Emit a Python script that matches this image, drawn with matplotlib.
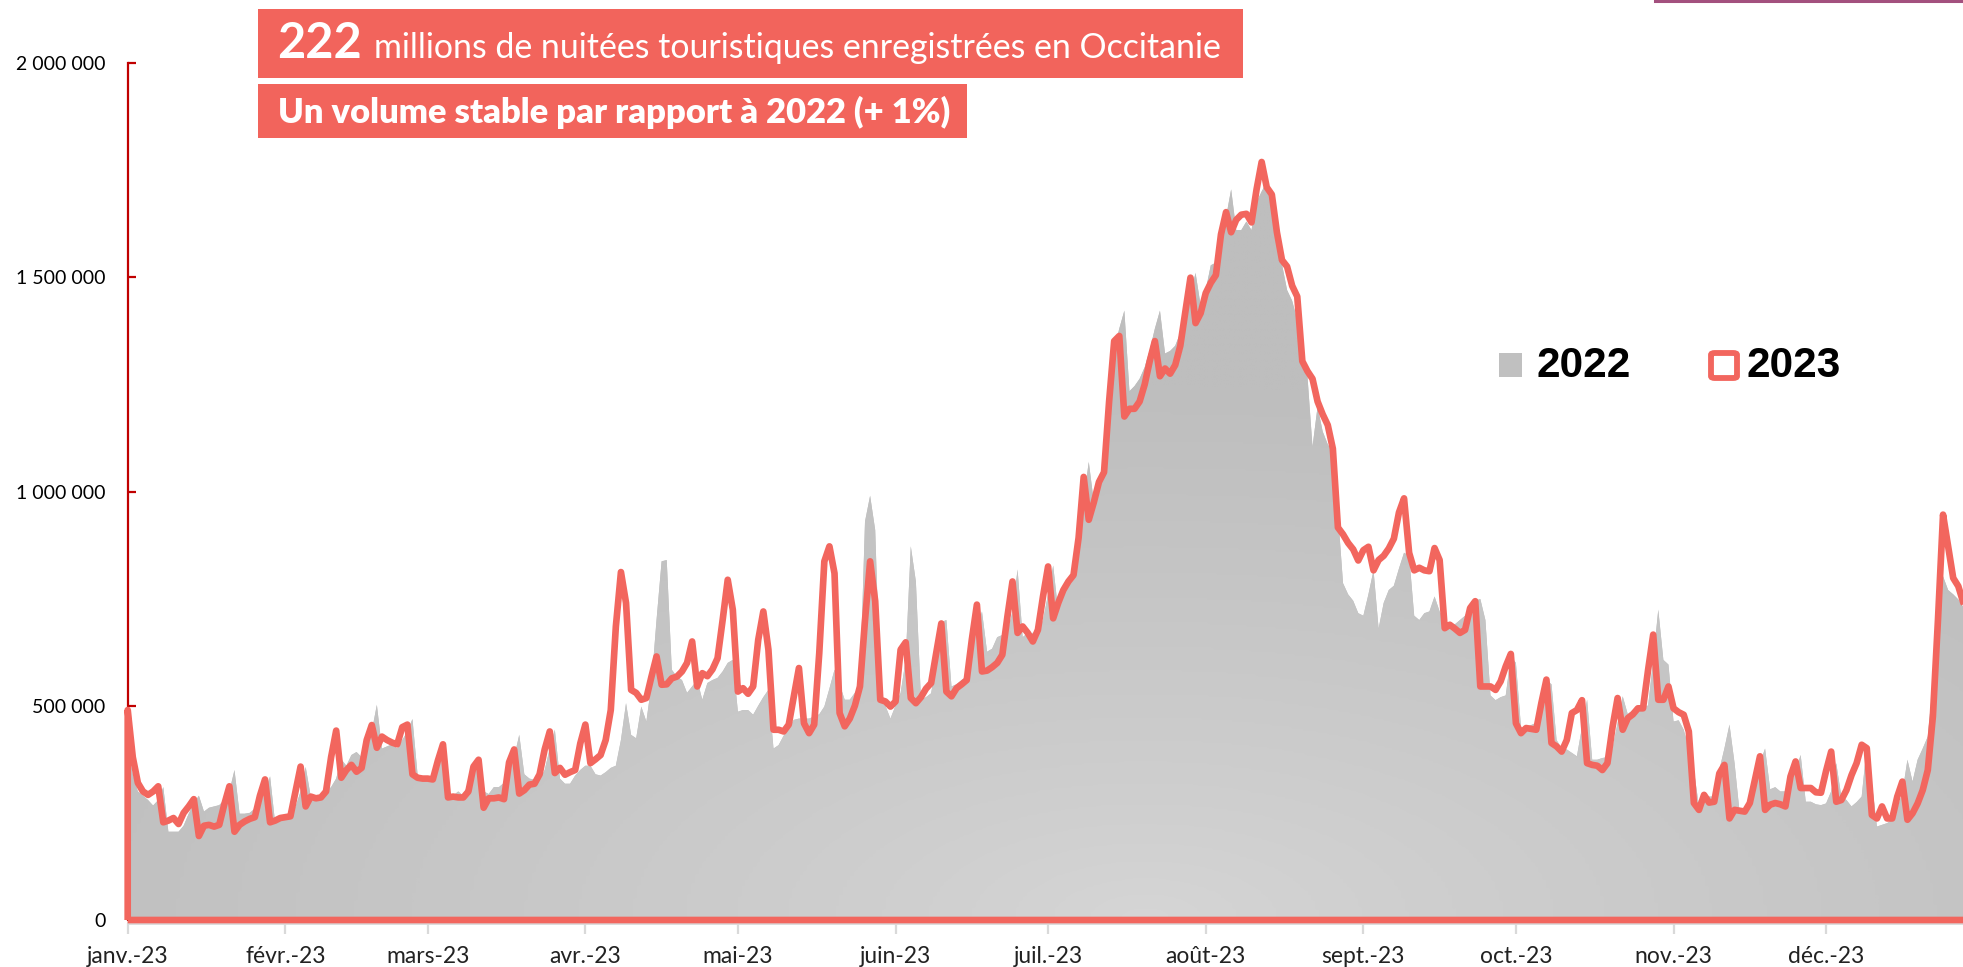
import numpy as np
import matplotlib
matplotlib.use("Agg")
import matplotlib.pyplot as plt
from matplotlib.patches import Rectangle, FancyBboxPatch
from matplotlib.lines import Line2D
from matplotlib.colors import LinearSegmentedColormap

plt.rcParams['font.family'] = ['Lato', 'DejaVu Sans']

# ---------------- labels ----------------
month_labels = ["janv.-23", "févr.-23", "mars-23", "avr.-23", "mai-23", "juin-23",
                "juil.-23", "août-23", "sept.-23", "oct.-23", "nov.-23", "déc.-23"]
month_lengths = [31, 28, 31, 30, 31, 30, 31, 31, 30, 31, 30, 31]
ytick_values = [0, 500000, 1000000, 1500000, 2000000]
ytick_labels = ["0", "500 000", "1 000 000", "1 500 000", "2 000 000"]
legend_labels = ["2022", "2023"]
title_number = "222"
title_rest = "millions de nuitées touristiques enregistrées en Occitanie"
subtitle = "Un volume stable par rapport à 2022 (+ 1%)"

# ---------------- daily nights, thousands : 2023 ----------------
n23_jan = [490, 380, 320, 300, 292, 300, 312, 228, 232, 238, 224, 250, 265, 282,
           196, 220, 222, 218, 222, 270, 312, 206, 222, 230, 236, 240, 290, 328,
           228, 232, 238]
n23_feb = [240, 242, 300, 358, 265, 288, 284, 286, 300, 380, 442, 332, 350, 362,
           346, 355, 420, 455, 402, 428, 420, 414, 410, 450, 456, 340, 332, 330]
n23_mar = [330, 328, 372, 410, 286, 288, 286, 286, 300, 358, 374, 262, 284, 284,
           286, 282, 368, 398, 295, 303, 316, 318, 340, 398, 440, 343, 355, 339,
           345, 350, 412]
n23_apr = [456, 366, 375, 385, 420, 490, 685, 812, 740, 537, 530, 514, 518, 568,
           615, 549, 550, 564, 568, 580, 600, 650, 545, 576, 569, 585, 611, 700,
           794, 724]
n23_may = [533, 541, 528, 545, 654, 720, 631, 444, 444, 440, 456, 522, 588, 459,
           436, 456, 623, 837, 872, 809, 483, 452, 470, 500, 545, 700, 837, 744,
           514, 510, 498]
n23_jun = [510, 631, 648, 518, 506, 520, 540, 553, 623, 692, 533, 522, 541, 550,
           560, 654, 736, 580, 582, 590, 600, 619, 708, 790, 670, 685, 670, 650,
           677, 755]
n23_jul = [825, 704, 740, 770, 790, 805, 892, 1034, 934, 975, 1022, 1045, 1210, 1351,
           1363, 1175, 1193, 1193, 1210, 1250, 1305, 1351, 1269, 1287, 1275, 1295,
           1340, 1420, 1499, 1393, 1416]
n23_aug = [1463, 1487, 1505, 1600, 1652, 1605, 1634, 1646, 1648, 1628, 1705, 1769,
           1710, 1693, 1605, 1540, 1525, 1480, 1455, 1304, 1281, 1263, 1210, 1180,
           1155, 1100, 916, 900, 880, 865, 839]
n23_sep = [863, 871, 816, 840, 850, 867, 890, 951, 984, 857, 816, 822, 816, 814,
           868, 840, 681, 689, 680, 670, 677, 728, 744, 545, 545, 545, 537, 557,
           592, 621]
n23_oct = [459, 436, 448, 446, 444, 506, 561, 413, 405, 393, 420, 483, 490, 513,
           366, 362, 360, 350, 366, 450, 518, 444, 471, 480, 494, 494, 584, 666,
           514, 514, 545]
n23_nov = [494, 485, 479, 440, 273, 257, 292, 274, 276, 342, 362, 237, 257, 255,
           253, 273, 327, 382, 257, 269, 273, 270, 265, 335, 370, 308, 308, 308,
           298, 297]
n23_dec = [348, 393, 276, 280, 303, 338, 366, 409, 401, 245, 237, 265, 237, 237,
           288, 323, 234, 249, 272, 303, 350, 475, 700, 946, 872, 798, 779, 740,
           720, 700, 690]

# ---------------- daily nights, thousands : 2022 ----------------
n22_jan = [400, 340, 300, 290, 280, 267, 280, 310, 206, 206, 206, 220, 248, 272,
           290, 253, 262, 265, 268, 280, 300, 350, 248, 248, 250, 260, 270, 300,
           335, 226, 235]
n22_feb = [240, 255, 264, 300, 357, 288, 280, 285, 300, 310, 330, 375, 360, 385,
           392, 380, 420, 440, 502, 400, 405, 410, 400, 420, 440, 469, 340, 330]
n22_mar = [330, 330, 360, 400, 290, 290, 300, 290, 320, 350, 370, 300, 294, 310,
           310, 320, 350, 380, 432, 340, 330, 327, 327, 350, 400, 444, 330, 318,
           318, 337, 350]
n22_apr = [360, 360, 340, 337, 345, 355, 360, 420, 506, 432, 424, 498, 463, 550,
           700, 837, 840, 584, 568, 560, 530, 545, 560, 514, 553, 560, 565, 580,
           600, 607]
n22_may = [486, 490, 490, 479, 500, 520, 537, 400, 408, 430, 450, 467, 470, 470,
           470, 475, 480, 498, 540, 584, 550, 514, 514, 530, 545, 930, 990, 910,
           545, 500, 470]
n22_jun = [500, 530, 607, 872, 790, 514, 520, 529, 600, 695, 700, 545, 550, 560,
           568, 620, 680, 720, 626, 633, 660, 665, 670, 720, 818, 660, 670, 670,
           670, 700]
n22_jul = [760, 827, 720, 760, 780, 800, 880, 980, 1069, 975, 1000, 1045, 1150, 1330,
           1380, 1422, 1234, 1246, 1263, 1290, 1330, 1380, 1422, 1322, 1328, 1340,
           1370, 1422, 1460, 1510, 1434]
n22_aug = [1470, 1528, 1534, 1580, 1640, 1705, 1610, 1610, 1630, 1610, 1675, 1700,
           1722, 1690, 1600, 1530, 1470, 1445, 1400, 1300, 1270, 1104, 1198, 1140,
           1110, 1090, 950, 786, 760, 745, 716]
n22_sep = [710, 760, 816, 680, 740, 770, 780, 820, 857, 850, 710, 700, 716, 720,
           755, 720, 697, 690, 690, 700, 710, 730, 745, 749, 700, 524, 513, 520,
           524, 615]
n22_oct = [600, 450, 450, 455, 460, 500, 560, 550, 420, 400, 398, 390, 382, 450,
           514, 374, 374, 378, 380, 400, 460, 522, 480, 490, 500, 500, 500, 607,
           724, 607, 596]
n22_nov = [463, 466, 444, 400, 350, 265, 288, 288, 288, 350, 400, 456, 366, 250,
           250, 260, 320, 366, 400, 305, 310, 300, 300, 320, 350, 385, 276, 276,
           270, 268]
n22_dec = [272, 300, 366, 288, 280, 265, 275, 288, 405, 320, 218, 222, 226, 234,
           260, 296, 374, 323, 374, 400, 428, 553, 748, 802, 770, 760, 748, 730,
           710, 700, 690]

v23 = np.array(n23_jan + n23_feb + n23_mar + n23_apr + n23_may + n23_jun +
               n23_jul + n23_aug + n23_sep + n23_oct + n23_nov + n23_dec) * 1000.0
v22 = np.array(n22_jan + n22_feb + n22_mar + n22_apr + n22_may + n22_jun +
               n22_jul + n22_aug + n22_sep + n22_oct + n22_nov + n22_dec) * 1000.0
days = np.arange(len(v23))
month_starts = np.concatenate([[0], np.cumsum(month_lengths)[:-1]])

# ---------------- figure ----------------
W, H = 1963, 967
fig = plt.figure(figsize=(W / 100, H / 100), dpi=100)
fig.patch.set_facecolor("white")


def fx(px):
    return px / W


def fy(py):
    return 1 - py / H


RED = "#F2665E"
BOX = "#F2645C"
px_per_day = 5.085
ax = fig.add_axes([fx(127.7), fy(920), 365 * px_per_day / W, (920 - 63) / H])
ax.set_facecolor("none")

# 2022 area with soft radial gradient
gray_poly = ax.fill_between(days, v22, 0, facecolor="#c0c0c0", edgecolor="none",
                            linewidth=0, zorder=1)
gx = np.linspace(0, 365, 500)
gy = np.linspace(0, 2e6, 400)
GX, GY = np.meshgrid(gx, gy)
r = np.sqrt(((GX - 200) / 240) ** 2 + (GY / 1.25e6) ** 2)
t = np.clip(r, 0, 1) ** 0.8
cmap = LinearSegmentedColormap.from_list("g", ["#d6d6d6", "#bebebe"])
im = ax.imshow(t, extent=(0, 365, 0, 2e6), origin="lower", cmap=cmap, vmin=0, vmax=1,
               aspect="auto", zorder=1.5, interpolation="bilinear")
im.set_clip_path(gray_poly.get_paths()[0], transform=ax.transData)

# 2023 outline (unfilled area)
red_poly = ax.fill_between(days, v23, 0, facecolor="none", edgecolor=RED,
                           linewidth=4.8, zorder=3, joinstyle="round", clip_on=False)

ax.set_xlim(0, 365)
ax.set_ylim(0, 2e6)

for s in ["top", "right"]:
    ax.spines[s].set_visible(False)
ax.spines["left"].set_color("#C00000")
ax.spines["left"].set_linewidth(1.6)
ax.spines["left"].set_zorder(2.6)
ax.spines["bottom"].set_color("#d9d9d9")
ax.spines["bottom"].set_linewidth(2)
ax.spines["bottom"].set_position(("outward", 2))

ax.set_yticks(ytick_values)
ax.set_yticklabels(ytick_labels)
ax.tick_params(axis="y", direction="in", length=6, width=1.6, color="#C00000",
               labelsize=14, labelcolor="black", pad=16)
ax.set_xticks(month_starts)
ax.set_xticklabels(month_labels)
ax.tick_params(axis="x", direction="out", length=8, width=1.6, color="#d9d9d9",
               labelsize=16.5, labelcolor="#222222", pad=9)

# ---------------- title boxes ----------------
fig.add_artist(Rectangle((fx(258), fy(78)), fx(1243) - fx(258), (78 - 9) / H,
                         transform=fig.transFigure, facecolor=BOX, edgecolor="none"))
fig.text(fx(277), fy(58), title_number, color="white", fontsize=35, fontweight="bold",
         va="baseline", ha="left")
fig.text(fx(374), fy(58), title_rest, color="white", fontsize=24.4, va="baseline",
         ha="left")
fig.add_artist(Rectangle((fx(258), fy(138)), fx(967) - fx(258), (138 - 84) / H,
                         transform=fig.transFigure, facecolor=BOX, edgecolor="none"))
fig.text(fx(278), fy(123), subtitle, color="white", fontsize=24.8, fontweight="heavy",
         va="baseline", ha="left")

# ---------------- legend ----------------
fig.add_artist(Rectangle((fx(1499), fy(377)), fx(1522) - fx(1499), (377 - 353) / H,
                         transform=fig.transFigure, facecolor="#c0c0c0",
                         edgecolor="none"))
fig.text(fx(1537), fy(377), legend_labels[0], fontsize=30.5, fontweight="bold",
         family=["Liberation Sans", "DejaVu Sans"], color="black", va="baseline")
fig.add_artist(FancyBboxPatch((fx(1711), fy(378)), fx(1737) - fx(1711), (378 - 353) / H,
                              boxstyle="round,pad=0,rounding_size=0.002",
                              transform=fig.transFigure, facecolor="white",
                              edgecolor=RED, linewidth=4.2))
fig.text(fx(1746), fy(377), legend_labels[1], fontsize=30.5, fontweight="bold",
         family=["Liberation Sans", "DejaVu Sans"], color="black", va="baseline")

# thin decorative line at the top right (cut-off element)
fig.add_artist(Line2D([fx(1655), fx(1963)], [fy(1), fy(1)], transform=fig.transFigure,
                      color="#A3507E", linewidth=2.2))

fig.savefig("out.png", dpi=100, facecolor="white")
